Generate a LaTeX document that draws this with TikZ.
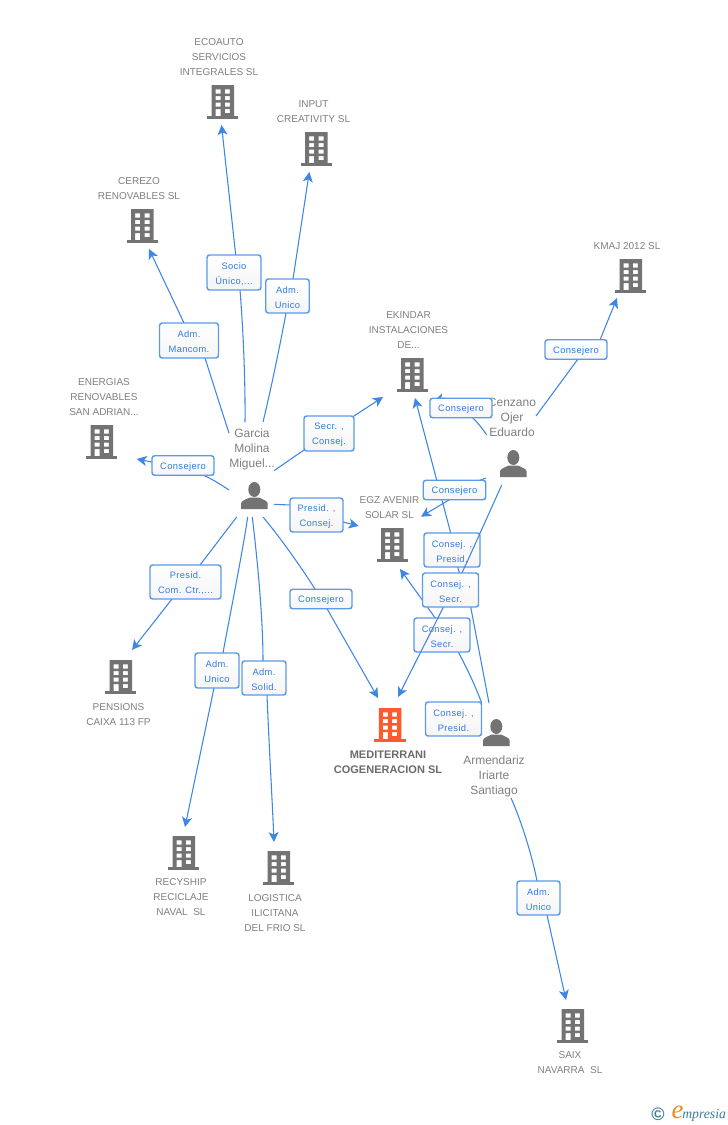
\documentclass[tikz,border=0pt]{standalone}
\usepackage{fontspec}
\setmainfont{Liberation Sans}
\newfontfamily\lblfont[LetterSpace=4]{Liberation Sans}
\newfontfamily\logofont{Liberation Serif}
\usetikzlibrary{arrows.meta}
\definecolor{linkblue}{HTML}{3F86E4}
\definecolor{boxblue}{HTML}{5B9BEA}
\definecolor{lbltext}{HTML}{2F7BE0}
\definecolor{graytext}{HTML}{808080}
\definecolor{icongray}{HTML}{737373}
\definecolor{hilite}{HTML}{FF5A2B}
\definecolor{logoteal}{HTML}{3A7F96}
\definecolor{logoorange}{HTML}{F08A1D}
\pgfdeclarelayer{back}
\pgfdeclarelayer{top}
\pgfsetlayers{back,main,top}
\tikzset{
  link/.style={draw=linkblue,line width=0.8pt},
  tiplink/.style={link,-{Stealth[length=7.5pt,width=7.5pt,inset=2pt]}},
  boxlbl/.style={draw=boxblue,line width=1.1pt,rounded corners=2pt,top color=white,bottom color=black!4,
    inner sep=0pt,align=center,text=lbltext,font=\lblfont\fontsize{7}{11.25}\selectfont},
  comp/.style={align=center,text=graytext,inner sep=0pt,font=\fontsize{7.5}{11.25}\selectfont},
  pers/.style={align=center,text=graytext,inner sep=0pt,font=\fontsize{9}{11.25}\selectfont},
  mainname/.style={align=center,text=black!58,inner sep=0pt,font=\bfseries\fontsize{8.25}{11.25}\selectfont},
}
\newcommand{\boxn}[6]{\node[boxlbl,minimum width=#4*0.75pt,minimum height=#5*0.75pt] (#1) at (#2,#3) {\rule{0pt}{7.4pt}#6};}
\newcommand{\bld}[4][icongray]{%
 \begin{scope}[shift={(#2,#3)}]
  \node[inner sep=0pt,minimum width=23.5pt,minimum height=25.5pt] (#4) at (15.7,17) {};
  \fill[#1] (0,31) rectangle (31.4,34);
  \fill[#1,even odd rule] (4.5,0) rectangle (27,31.2)
    (8.5,4.3) rectangle (13.5,8.5) (17.8,4.3) rectangle (22.8,8.5)
    (8.5,11) rectangle (13.5,15) (17.8,11) rectangle (22.8,15)
    (8.5,17.7) rectangle (13.5,21.7) (17.8,17.7) rectangle (22.8,21.7)
    (8.5,24) rectangle (13.5,31.2) (17.8,24) rectangle (22.8,28);
 \end{scope}}
\newcommand{\persn}[3]{%
 \begin{scope}[shift={(#1,#2)}]
  \node[inner sep=0pt,minimum width=20pt,minimum height=20pt] (#3) at (13.3,13.5) {};
  \fill[icongray] (13.3,7.5) ellipse [x radius=6,y radius=7.5];
  \fill[icongray] (0,27) -- (0,21.5) .. controls (0.5,18.5) and (4,18) .. (8.5,15.5) -- (18,15.5)
     .. controls (22.5,18) and (26.2,18.5) .. (26.7,21.5) -- (26.7,27) -- cycle;
 \end{scope}}
\begin{document}
\begin{tikzpicture}[x=0.75pt,y=-0.75pt]
\begin{pgfonlayer}{back}
\fill[white] (0,0) rectangle (728,1125);
\end{pgfonlayer}
\useasboundingbox (0,0) rectangle (728,1125);

% buildings
\bld{207}{85}{bEco}
\bld{300.7}{132}{bInput}
\bld{126.7}{209}{bCerezo}
\bld{86}{425}{bEner}
\bld{396.7}{358}{bEkin}
\bld{615}{259}{bKmaj}
\bld{376.5}{528}{bEgz}
\bld{105}{660}{bPens}
\bld[hilite]{374.3}{708}{bMed}
\bld{168}{836}{bRecy}
\bld{263}{851}{bLogi}
\bld{557}{1009}{bSaix}

% persons
\persn{241}{482}{pGarcia}
\persn{500}{450}{pCenz}
\persn{483}{719}{pArm}

% names
\node[comp] (tEco) at (219,57) {ECOAUTO\\SERVICIOS\\INTEGRALES SL};
\node[comp] (tInput) at (313.5,111.5) {INPUT\\CREATIVITY SL};
\node[comp] (tCerezo) at (139,188.5) {CEREZO\\RENOVABLES SL};
\node[comp] (tEner) at (104,397) {ENERGIAS\\RENOVABLES\\SAN ADRIAN...};
\node[comp] (tEkin) at (408.5,330) {EKINDAR\\INSTALACIONES\\DE...};
\node[comp] (tKmaj) at (627,246) {KMAJ 2012 SL};
\node[comp] (tEgz) at (389.5,507.5) {EGZ AVENIR\\SOLAR SL};
\node[comp] (tPens) at (118.5,714.5) {PENSIONS\\CAIXA 113 FP};
\node[mainname] (tMed) at (388,762) {MEDITERRANI\\COGENERACION SL};
\node[comp] (tRecy) at (181,897) {RECYSHIP\\RECICLAJE\\NAVAL\ \ SL};
\node[comp] (tLogi) at (275,913) {LOGISTICA\\ILICITANA\\DEL FRIO SL};
\node[comp] (tSaix) at (570,1063) {SAIX\\NAVARRA\ \ SL};
\node[pers] (tGarcia) at (252,449) {Garcia\\Molina\\Miguel...};
\node[pers] (tCenz) at (512,417) {Cenzano\\Ojer\\Eduardo};
\node[pers] (tArm) at (494,776) {Armendariz\\Iriarte\\Santiago};

% free ends
\coordinate (gSocio) at (245,422);
\coordinate (gUnico) at (263,422);
\coordinate (gManc) at (229,433);
\coordinate (gCons) at (229,490);
\coordinate (gSecr) at (274,470.7);
\coordinate (gPres) at (274,504.3);
\coordinate (gCom) at (236.7,517);
\coordinate (gAdmU) at (247.7,517);
\coordinate (gSol) at (252.3,517);
\coordinate (gMed) at (263,517);
\coordinate (cKmaj) at (536,416);
\coordinate (cEkin) at (486.7,435);
\coordinate (cEgz) at (486,478);
\coordinate (cMed) at (501.7,485);
\coordinate (aPres) at (489,703);
\coordinate (aSecr) at (481.7,703);
\coordinate (aSaix) at (511,798);
\coordinate (tipEco) at (221.5,125);
\coordinate (tipInput) at (309.3,172);
\coordinate (tipCerezo) at (149,249);
\coordinate (tipEner) at (136.7,459);
\coordinate (tipEkinA) at (383,397);
\coordinate (tipEkinB) at (415,398);
\coordinate (tipEkinC) at (434,401);
\coordinate (tipEgzA) at (358.7,526);
\coordinate (tipEgzB) at (421,516.7);
\coordinate (tipEgzC) at (400,569);
\coordinate (tipPens) at (132,650);
\coordinate (tipRecy) at (185,827);
\coordinate (tipLogi) at (274,842);
\coordinate (tipMedA) at (378,698);
\coordinate (tipMedB) at (398,697);
\coordinate (tipKmaj) at (617,298);
\coordinate (tipSaix) at (566,1000);

% labels
\boxn{lSocio}{234}{272.5}{54}{35}{Socio\\Único,...}
\boxn{lUnico}{287.5}{296}{43.5}{34}{Adm.\\Unico}
\boxn{lManc}{189}{340.5}{59}{35}{Adm.\\Mancom.}
\boxn{lCons}{183}{465.5}{62}{19.5}{Consejero}
\boxn{lSecr}{329}{433.5}{50}{35}{Secr. ,\\Consej.}
\boxn{lPres}{316.5}{515}{53}{34}{Presid. ,\\Consej.}
\boxn{lCom}{185.5}{582}{71}{34}{Presid.\\Com. Ctr.,...}
\boxn{lAdmU}{217}{670.5}{44}{35}{Adm.\\Unico}
\boxn{lSol}{264}{678}{44}{34}{Adm.\\Solid.}
\boxn{lMed}{321}{599}{62}{19.5}{Consejero}
\boxn{lKmaj}{576}{349.5}{62}{19.5}{Consejero}
\boxn{lEkin}{461}{408}{62}{19.5}{Consejero}
\boxn{lEgz}{454.5}{490}{62.5}{19.5}{Consejero}
\boxn{lPresA}{452}{550}{56}{34}{Consej. ,\\Presid.}
\boxn{lSecrB}{442}{635}{56}{34}{Consej. ,\\Secr.}
\boxn{lPresB}{453.5}{719}{56}{34}{Consej. ,\\Presid.}
\boxn{lSaix}{538.5}{898}{43}{34}{Adm.\\Unico}
\begin{pgfonlayer}{top}
\boxn{lSecrA}{450.5}{590}{56}{34}{Consej. ,\\Secr.}
\end{pgfonlayer}

% connectors under the boxes
\begin{pgfonlayer}{back}
\draw[link] (gSocio) .. controls (245.5,375) and (242.5,320) .. (240,290) -- (lSocio.center);
\draw[tiplink] (lSocio.center) -- (235.7,255) -- (tipEco);
\draw[link] (gUnico) .. controls (272,385) and (282,335) .. (286,313) -- (lUnico.center);
\draw[tiplink] (lUnico.center) -- (293,279) -- (tipInput);
\draw[link] (gManc) .. controls (224,418) and (212,380) .. (205,358) -- (lManc.center);
\draw[tiplink] (lManc.center) -- (184,323) -- (tipCerezo);
\draw[link] (gCons) .. controls (220,484) and (212,479) .. (203,475) -- (lCons.center);
\draw[tiplink] (lCons.center) -- (152,462) -- (tipEner);
\draw[link] (gSecr) -- (304,450) -- (lSecr.center);
\draw[tiplink] (lSecr.center) -- (354,416) -- (tipEkinA);
\draw[link] (gPres) -- (290,505) -- (lPres.center);
\draw[tiplink] (lPres.center) -- (343,522) -- (tipEgzA);
\draw[link] (gCom) -- (200,565) -- (lCom.center);
\draw[tiplink] (lCom.center) -- (172,599) -- (tipPens);
\draw[link] (gAdmU) .. controls (243,550) and (228,625) .. (223,653) -- (lAdmU.center);
\draw[tiplink] (lAdmU.center) -- (214,688) -- (tipRecy);
\draw[link] (gSol) .. controls (258,565) and (263,620) .. (263,661) -- (lSol.center);
\draw[tiplink] (lSol.center) -- (267,695) .. controls (269,745) and (272,795) .. (tipLogi);
\draw[link] (gMed) .. controls (280,537) and (303,570) .. (315,589) -- (lMed.center);
\draw[tiplink] (lMed.center) -- (327,608.7) -- (tipMedA);
\draw[link] (cKmaj) -- (578,359) -- (lKmaj.center);
\draw[tiplink] (lKmaj.center) -- (600,340) -- (tipKmaj);
\draw[link] (cEkin) .. controls (482,428) and (478,423) .. (472.7,417.7) -- (lEkin.center);
\draw[tiplink] (lEkin.center) -- (444,398) -- (tipEkinC);
\draw[link] (cEgz) -- (lEgz.center);
\draw[tiplink] (lEgz.center) -- (449.3,499.7) -- (tipEgzB);
\draw[link] (aPres) -- (470.7,607) -- (lPresA.center);
\draw[tiplink] (lPresA.center) -- (450.7,533) -- (tipEkinB);
\draw[link] (aSecr) .. controls (473,680) and (465,665) .. (458.3,652) -- (lSecrB.center);
\draw[tiplink] (lSecrB.center) -- (435,617.7) -- (tipEgzC);
\draw[link] (aSaix) .. controls (523,825) and (533,860) .. (537,881) -- (lSaix.center);
\draw[tiplink] (lSaix.center) -- (547,915) -- (tipSaix);
\end{pgfonlayer}

% connectors that run over a box and under the upper Consej./Secr. box
\draw[link] (cMed) -- (468,560) -- (461.7,573.3) -- (lSecrA.center);
\draw[tiplink] (lSecrA.center) -- (443.3,607.3) -- (tipMedB);

% logo
\node[inner sep=0pt,text=logoteal,font=\bfseries\fontsize{13.5}{14}\selectfont] (logoC) at (658,1114) {©};
\node[inner sep=0pt,text=logoorange,font=\logofont\itshape\fontsize{20}{20}\selectfont] (logoE) at (677.5,1112.5) {e};
\node[inner sep=0pt,anchor=west,text=logoteal,font=\logofont\itshape\fontsize{10.3}{11}\selectfont] (logoT) at (682,1115) {mpresia};
\end{tikzpicture}
\end{document}
